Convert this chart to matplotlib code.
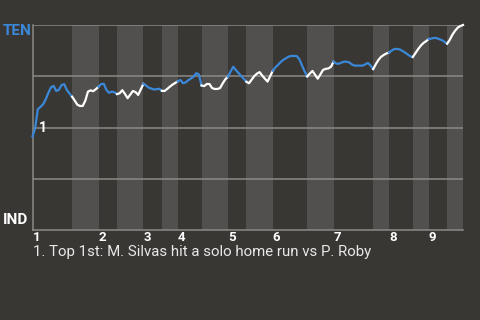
import matplotlib
matplotlib.use('Agg')
import matplotlib.pyplot as plt

plt.rcParams['font.family'] = ['Roboto', 'DejaVu Sans']

# teams / labels
away = 'TEN'
home = 'IND'
innings = ['1', '2', '3', '4', '5', '6', '7', '8', '9']
caption = '1. Top 1st: M. Silvas hit a solo home run vs P. Roby'
note_label = '1'
note_idx = 1

# number of events in each half inning (top 1st, bottom 1st, ...)
half_lengths = [15, 10, 7, 10, 7, 6, 9, 10, 7, 10, 13, 10, 15, 6, 9, 6, 7, 6]

# TEN win probability after each event
wp = [0.456, 0.497, 0.589, 0.600, 0.613, 0.637, 0.669, 0.696, 0.703, 0.678,
      0.684, 0.707, 0.711, 0.683, 0.666, 0.650, 0.631, 0.611, 0.605, 0.605,
      0.631, 0.675, 0.681, 0.677, 0.687, 0.699, 0.712, 0.713, 0.683, 0.669,
      0.675, 0.672, 0.663, 0.667, 0.682, 0.664, 0.643, 0.660, 0.678, 0.673,
      0.659, 0.686, 0.713, 0.705, 0.694, 0.690, 0.685, 0.687, 0.689, 0.679,
      0.678, 0.688, 0.699, 0.709, 0.717, 0.725, 0.732, 0.716, 0.720, 0.731,
      0.739, 0.748, 0.765, 0.759, 0.705, 0.702, 0.712, 0.712, 0.692, 0.688,
      0.688, 0.692, 0.715, 0.735, 0.748, 0.773, 0.796, 0.780, 0.766, 0.751,
      0.738, 0.723, 0.716, 0.734, 0.751, 0.763, 0.770, 0.753, 0.738, 0.724,
      0.751, 0.777, 0.794, 0.806, 0.820, 0.830, 0.838, 0.846, 0.849, 0.849,
      0.849, 0.834, 0.804, 0.775, 0.749, 0.763, 0.776, 0.757, 0.738, 0.759,
      0.781, 0.786, 0.788, 0.796, 0.821, 0.812, 0.811, 0.817, 0.821, 0.821,
      0.817, 0.807, 0.802, 0.802, 0.802, 0.802, 0.808, 0.815, 0.802, 0.785,
      0.809, 0.830, 0.845, 0.854, 0.861, 0.866, 0.875, 0.883, 0.883, 0.881,
      0.874, 0.866, 0.857, 0.848, 0.844, 0.863, 0.882, 0.899, 0.912, 0.921,
      0.931, 0.934, 0.937, 0.936, 0.931, 0.926, 0.918, 0.909, 0.928, 0.953,
      0.972, 0.987, 0.995, 1.000]

bg = '#393734'
band = '#52504e'
grid = '#8c8a87'
blue = '#3b88d9'

fig = plt.figure(figsize=(4.8, 3.2), dpi=100, facecolor=bg)
ax = fig.add_axes([32.5 / 480, 90 / 320, 430.5 / 480, 205 / 320])
ax.set_facecolor(bg)

starts = [0]
for n in half_lengths:
    starts.append(starts[-1] + n)

for k in range(len(half_lengths)):
    s, e = starts[k], starts[k + 1]
    if k % 2:
        ax.axvspan(s, e, color=band, lw=0, zorder=0)
    ax.plot(range(s, e + 1), wp[s:e + 1], color=blue if k % 2 == 0 else 'white',
            lw=1.6, zorder=3, clip_on=False)

for y in [0.25, 0.5, 0.75, 1.0]:
    ax.axhline(y, color=grid, lw=1.1, zorder=2)

ax.set_xlim(0, starts[-1])
ax.set_ylim(0, 1)
for side in ['top', 'right']:
    ax.spines[side].set_visible(False)
for side in ['left', 'bottom']:
    ax.spines[side].set_color(grid)
    ax.spines[side].set_linewidth(1.1)

ax.set_yticks([])
ax.set_xticks(starts[0:-1:2])
ax.set_xticklabels(innings, fontweight='bold', color='white', fontsize=9.5, ha='left')
ax.tick_params(axis='x', length=0, pad=1)

ax.annotate(note_label, (note_idx, wp[note_idx]), xytext=(4, 0), textcoords='offset pixels',
            color='white', fontweight='bold', fontsize=10, ha='left', va='center', zorder=4)

fig.text(3 / 480, 1 - 31 / 320, away, color=blue, fontweight='bold', fontsize=11, va='center')
fig.text(3 / 480, 1 - 220 / 320, home, color='white', fontweight='bold', fontsize=11, va='center')
fig.text(33 / 480, 1 - 252 / 320, caption, color='#e8e8e8', fontsize=10.8, va='center')

fig.savefig('out.png', dpi=100, facecolor=bg)
